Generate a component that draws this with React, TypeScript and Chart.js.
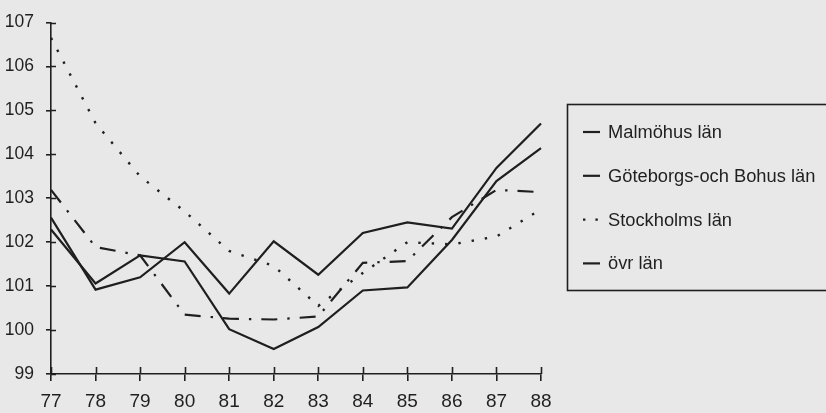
import React, { useEffect, useRef } from "react";
import { Chart, registerables } from "chart.js";

Chart.register(...registerables);

// ---- data ----
const years = ["77", "78", "79", "80", "81", "82", "83", "84", "85", "86", "87", "88"];
const seriesLabels = ["Malmöhus län", "Göteborgs-och Bohus län", "Stockholms län", "övr län"];
const malmohus = [102.56, 100.92, 101.2, 102.0, 100.83, 102.02, 101.26, 102.21, 102.45, 102.31, 103.69, 104.7];
const goteborg = [102.29, 101.06, 101.7, 101.56, 100.02, 99.57, 100.07, 100.9, 100.97, 102.05, 103.39, 104.14];
const stockholm = [106.65, 104.71, 103.5, 102.7, 101.8, 101.46, 100.55, 101.3, 102.0, 101.95, 102.13, 102.75];
const ovrLan = [103.19, 101.89, 101.7, 100.35, 100.26, 100.24, 100.31, 101.53, 101.57, 102.57, 103.19, 103.14];
const yMin = 99;
const yMax = 107;

const INK = "#1f1f1f";
const PAPER = "#e8e8e8";
const FONT = "'Liberation Sans', Arial, Helvetica, sans-serif";

const paperPlugin = {
  id: "paper",
  beforeDraw(chart: any) {
    const { ctx, width, height } = chart;
    ctx.save();
    ctx.fillStyle = PAPER;
    ctx.fillRect(0, 0, width, height);
    ctx.restore();
  },
};

const innerTicksPlugin = {
  id: "innerTicks",
  afterDraw(chart: any) {
    const { ctx, chartArea } = chart;
    const xs = chart.scales.x;
    const ys = chart.scales.y;
    ctx.save();
    ctx.strokeStyle = INK;
    ctx.lineWidth = 1.6;
    ctx.beginPath();
    ys.ticks.forEach((_t: any, i: number) => {
      const py = Math.round(ys.getPixelForTick(i)) + 0.5;
      ctx.moveTo(chartArea.left, py);
      ctx.lineTo(chartArea.left + 5, py);
    });
    xs.ticks.forEach((_t: any, i: number) => {
      const px = Math.round(xs.getPixelForTick(i)) + 0.5;
      ctx.moveTo(px, chartArea.bottom);
      ctx.lineTo(px, chartArea.bottom - 7);
    });
    ctx.stroke();
    ctx.restore();
  },
};

const boxLegendPlugin = {
  id: "boxLegend",
  afterDraw(chart: any) {
    const { ctx } = chart;
    ctx.save();
    ctx.strokeStyle = INK;
    ctx.lineWidth = 1.6;
    ctx.strokeRect(567.5, 104.5, 300, 186);
    chart.data.datasets.forEach((ds: any, i: number) => {
      const cy = 132 + i * 43.8;
      ctx.strokeStyle = INK;
      ctx.lineWidth = ds.borderWidth;
      ctx.setLineDash(ds.legendDash || []);
      ctx.beginPath();
      ctx.moveTo(583, cy);
      ctx.lineTo(600, cy);
      ctx.stroke();
      ctx.setLineDash([]);
      ctx.fillStyle = INK;
      ctx.font = `18.3px ${FONT}`;
      ctx.textBaseline = "middle";
      ctx.textAlign = "left";
      ctx.fillText(ds.label, 608, cy + 1);
    });
    ctx.restore();
  },
};

export default function App() {
  const ref = useRef<HTMLCanvasElement | null>(null);

  useEffect(() => {
    if (!ref.current) return;
    const line = (label: string, data: number[], dash: number[], legendDash: number[], width: number) => ({
      label,
      data,
      borderColor: INK,
      backgroundColor: INK,
      borderWidth: width,
      borderDash: dash,
      legendDash,
      borderCapStyle: "butt",
      borderJoinStyle: "miter",
      pointRadius: 0,
      tension: 0,
      fill: false,
    });
    const chart = new Chart(ref.current, {
      type: "line",
      data: {
        labels: years,
        datasets: [
          line(seriesLabels[0], malmohus, [], [], 2.2),
          line(seriesLabels[1], goteborg, [], [], 2.2),
          line(seriesLabels[2], stockholm, [2.4, 11], [2.4, 10], 2.4),
          line(seriesLabels[3], ovrLan, [16, 10, 2.4, 10], [], 2.2),
        ] as any,
      },
      options: {
        responsive: false,
        animation: false,
        devicePixelRatio: 1,
        layout: { padding: { top: 17, right: 285, left: 0, bottom: 0 } },
        plugins: {
          legend: { display: false },
          tooltip: { enabled: false },
        },
        scales: {
          x: {
            type: "category",
            offset: false,
            grid: {
              display: true,
              drawOnChartArea: false,
              drawTicks: true,
              tickLength: 7,
              color: INK,
              lineWidth: 1.6,
            },
            border: { display: true, color: INK, width: 1.6 },
            ticks: {
              color: INK,
              font: { family: FONT, size: 19 },
              padding: 9,
              maxRotation: 0,
              autoSkip: false,
            },
            afterFit: (s: any) => {
              s.height = 39;
            },
          },
          y: {
            type: "linear",
            min: yMin,
            max: yMax,
            grid: {
              display: true,
              drawOnChartArea: false,
              drawTicks: true,
              tickLength: 5,
              color: INK,
              lineWidth: 1.6,
            },
            border: { display: true, color: INK, width: 1.6 },
            ticks: {
              stepSize: 1,
              color: INK,
              font: { family: FONT, size: 17.5 },
              padding: 12,
            },
            afterFit: (s: any) => {
              s.width = 51;
            },
          },
        },
      } as any,
      plugins: [paperPlugin, innerTicksPlugin, boxLegendPlugin],
    });
    return () => chart.destroy();
  }, []);

  return (
    <div style={{ position: "fixed", left: 0, top: 0, width: 826, height: 413, background: PAPER }}>
      <canvas ref={ref} width={826} height={413} style={{ display: "block" }} />
    </div>
  );
}
